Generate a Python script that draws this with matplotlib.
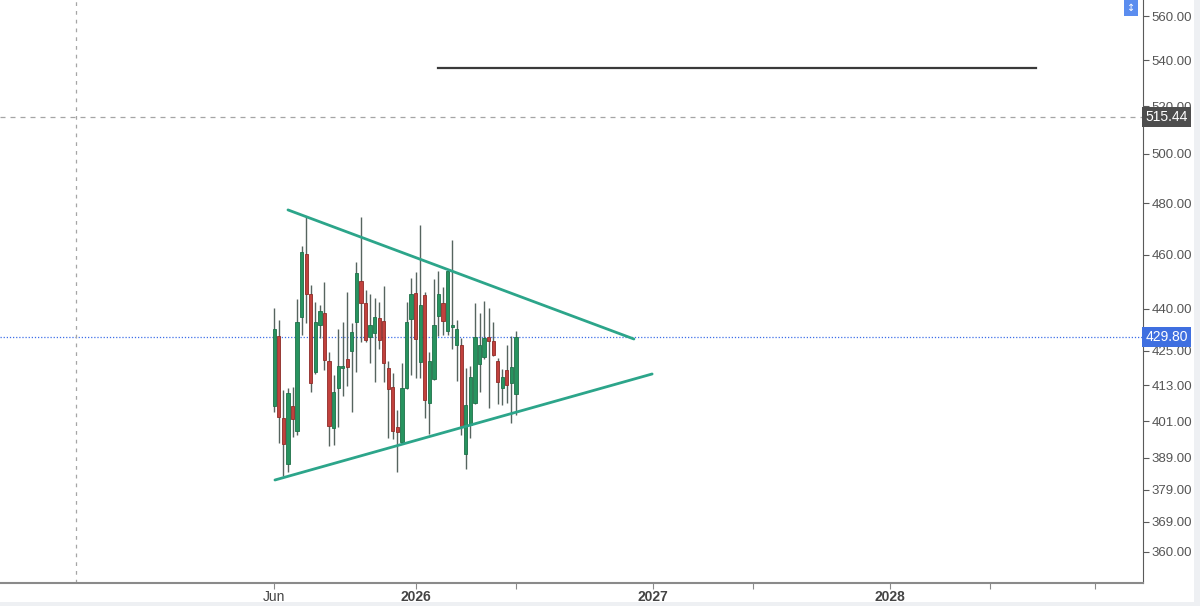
import datetime as dt
import numpy as np
import matplotlib
matplotlib.use("Agg")
import matplotlib.pyplot as plt
import matplotlib.dates as mdates
import matplotlib.transforms as mtrans
from matplotlib.patches import Rectangle

# weekly OHLC, first bar week of 2 Jun 2025
first_week = dt.date(2025, 6, 2)
opens = [405.9, 430.2, 402.0, 387.1, 406.0, 397.7, 436.9, 460.2, 445.3, 417.6,
         434.1, 438.4, 421.4, 398.7, 412.1, 418.9, 422.1, 424.9, 435.1, 450.1,
         442.0, 429.8, 431.2, 436.6, 435.5, 418.9, 412.4, 399.0, 394.2, 412.1,
         436.2, 445.7, 421.0, 444.9, 407.0, 415.2, 437.3, 442.0, 431.9, 433.4,
         427.0, 427.0, 390.3, 399.7, 407.0, 420.3, 422.8, 429.8, 428.4, 421.4,
         412.1, 418.3, 413.8, 410.1]
highs = [440.2, 435.9, 411.4, 412.1, 412.4, 443.5, 463.3, 474.5, 448.6, 442.4,
         441.3, 449.7, 424.5, 416.5, 432.6, 435.1, 446.0, 434.8, 457.2, 474.5,
         446.8, 445.3, 443.8, 442.4, 448.2, 421.4, 417.2, 404.7, 420.7, 442.4,
         451.2, 453.5, 471.4, 446.0, 424.5, 450.9, 453.8, 447.9, 454.6, 465.6,
         435.9, 429.4, 418.9, 419.6, 442.0, 438.4, 442.7, 440.2, 435.1, 422.4,
         418.6, 427.0, 430.2, 431.9]
lows = [404.0, 393.9, 383.3, 384.4, 395.8, 396.5, 430.5, 434.8, 410.7, 417.0,
        429.4, 418.3, 392.9, 393.2, 399.0, 409.4, 412.8, 404.0, 417.6, 428.0,
        428.0, 420.7, 414.1, 425.6, 414.1, 395.5, 395.2, 384.4, 393.5, 411.8,
        416.5, 415.5, 415.5, 402.0, 396.8, 415.0, 430.2, 430.5, 430.5, 425.6,
        414.5, 396.5, 385.4, 395.5, 406.7, 410.7, 422.1, 405.4, 423.3, 406.7,
        406.4, 407.0, 400.4, 403.0]
closes = [432.6, 402.4, 393.5, 410.4, 401.7, 435.1, 461.0, 445.3, 413.8, 435.1,
          439.1, 421.7, 399.4, 410.7, 419.6, 419.6, 419.3, 431.6, 453.1, 442.0,
          428.7, 434.1, 436.9, 428.7, 420.7, 411.8, 397.7, 397.4, 412.1, 435.1,
          445.3, 429.0, 441.3, 408.1, 421.4, 434.1, 445.3, 435.5, 453.8, 434.1,
          432.6, 399.4, 406.4, 415.9, 429.8, 427.0, 429.4, 428.4, 423.5, 414.1,
          415.9, 413.1, 419.3, 429.8]

# drawings
upper_trend = [("2025-06-23", 477.3), ("2026-12-06", 429.1)]
lower_trend = [("2025-06-03", 382.0), ("2027-01-03", 416.9)]
level_line = [("2026-02-09", 536.5), ("2028-08-14", 536.5)]
marked_price = 515.44
last_price = 429.80
crosshair_date = "2024-08-01"

price_ticks = [560, 540, 520, 500, 480, 460, 440, 425, 413, 401, 389, 379, 369, 360]
time_ticks = ["2025-06-02", "2026-01-05", "2026-06-08", "2027-01-04",
              "2027-06-07", "2028-01-03", "2028-06-05", "2028-11-13"]
time_labels = ["Jun", "2026", "", "2027", "", "2028", "", ""]
bold_labels = ["2026", "2027", "2028"]

green = "#27935f"
red = "#c1413d"
teal = "#2ca58a"
axis_grey = "#5a5a5a"


def dnum(s):
    return mdates.date2num(dt.datetime.strptime(s, "%Y-%m-%d"))


fig = plt.figure(figsize=(12, 6.06), dpi=100)
ax = fig.add_axes([0, 0.038, 0.9525, 0.962])
ax.set_yscale("log")

start = mdates.date2num(first_week)
dates = start + 7 * np.arange(len(opens))
o = np.array(opens)
c = np.array(closes)
up = c >= o

# candles
ax.vlines(dates, lows, highs, color="#56645f", lw=1.0, zorder=3)
body_lo = np.minimum(o, c)
body_h = np.maximum(np.abs(c - o), 0.7)
ax.bar(dates, body_h, bottom=body_lo, width=5.0,
       color=np.where(up, green, red),
       edgecolor=np.where(up, "#1d7048", "#8e2b27"), lw=0.6, zorder=4)

# trend lines and level
for line in (upper_trend, lower_trend):
    ax.plot([dnum(p[0]) for p in line], [p[1] for p in line],
            color=teal, lw=2, solid_capstyle="round", zorder=5)
ax.plot([dnum(p[0]) for p in level_line], [p[1] for p in level_line],
        color="#3a3a3a", lw=1.6, zorder=5)

# price lines
ax.axhline(marked_price, color="#a5a5a5", lw=0.9, ls=(0, (4, 4)), zorder=2)
ax.axhline(last_price, color="#3d6fe8", lw=0.9, ls=(0, (1, 1.5)), zorder=2)
ax.axvline(dnum(crosshair_date), color="#a5a5a5", lw=0.9, ls=(0, (3, 4)), zorder=2)

# axes limits / layout
px_per_day = 4.56 / 7
ax.set_xlim(start - 274.3 / px_per_day, start + (1143 - 274.3) / px_per_day)
ax.set_ylim(350.9, 567.5)

for s in ("top", "left"):
    ax.spines[s].set_visible(False)
ax.spines["right"].set_color(axis_grey)
ax.spines["bottom"].set_color("#8a8a8a")
ax.spines["bottom"].set_linewidth(1.5)

ax.yaxis.tick_right()
ax.yaxis.set_minor_locator(matplotlib.ticker.NullLocator())
ax.set_yticks(price_ticks)
ax.set_yticklabels([f"{v:.2f}" for v in price_ticks])
ax.tick_params(axis="y", colors=axis_grey, labelcolor="#555555", labelsize=9.5,
               length=4, pad=2)
for t in ax.get_yticklabels():
    t.set_family(["Liberation Sans", "DejaVu Sans"])

ax.set_xticks([dnum(s) for s in time_ticks])
ax.set_xticklabels(time_labels)
ax.tick_params(axis="x", colors="#8a8a8a", labelcolor="#444444", labelsize=10,
               length=4, pad=1)
for t in ax.get_xticklabels():
    t.set_family(["Liberation Sans Narrow", "Liberation Sans", "DejaVu Sans"])
    if t.get_text() in bold_labels:
        t.set_fontweight("bold")

# price tags on the right scale
tag_tf = mtrans.blended_transform_factory(ax.transAxes, ax.transData)
for price, col in ((marked_price, "#4d4d4d"), (last_price, "#3f6fe0")):
    ax.text(1.002, price, f"{price:.2f}", transform=tag_tf,
            ha="left", va="center", fontsize=10, color="white",
            family=["Liberation Sans", "DejaVu Sans"], zorder=10,
            bbox=dict(boxstyle="square,pad=0.22", fc=col, ec="none"))

# little scale button top right and grey frame strips
fig.patches.append(Rectangle((1124 / 1200, 1 - 16 / 606), 14 / 1200, 16 / 606,
                             transform=fig.transFigure, fc="#5b8def", ec="none"))
fig.text(1131 / 1200, 1 - 8 / 606, "\u2195", color="white", fontsize=7,
         ha="center", va="center")
fig.patches.append(Rectangle((0, 0), 1, 4 / 606, transform=fig.transFigure,
                             fc="#eef0f3", ec="none", zorder=-1))
fig.patches.append(Rectangle((1194 / 1200, 0), 6 / 1200, 1, transform=fig.transFigure,
                             fc="#eef0f3", ec="none", zorder=-1))

fig.savefig("out.png", dpi=100, facecolor="white")
